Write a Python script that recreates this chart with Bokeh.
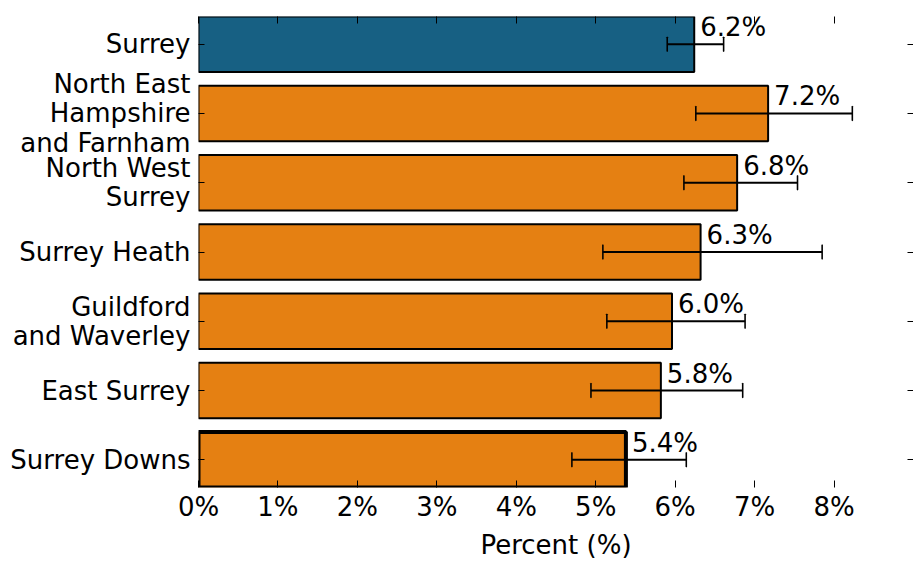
from bokeh.plotting import figure
from bokeh.models import Range1d, FixedTicker, LinearAxis, ColumnDataSource
from bokeh.embed import file_html
from bokeh.resources import INLINE

categories = ["Surrey", "North East\nHampshire\nand Farnham", "North West\nSurrey",
              "Surrey Heath", "Guildford\nand Waverley", "East Surrey", "Surrey Downs"]
values = [6.24, 7.17, 6.78, 6.32, 5.96, 5.82, 5.38]
lower = [5.90, 6.26, 6.11, 5.09, 5.14, 4.94, 4.70]
upper = [6.61, 8.23, 7.54, 7.85, 6.88, 6.85, 6.14]
colors = ["#176083", "#e58012", "#e58012", "#e58012", "#e58012", "#e58012", "#e58012"]
line_widths = [2, 2, 2, 2, 2, 2, 4]
x_ticks = [0, 1, 2, 3, 4, 5, 6, 7, 8]

n = len(categories)
pos = list(range(n))
labels = [f"{v:.1f}%" for v in values]

src = ColumnDataSource(dict(y=pos, v=values, lo=lower, hi=upper, c=colors,
                            lw=line_widths, lab=labels))

FONT = "DejaVu Sans"
FS = "26px"

p = figure(width=913, height=562, output_backend="svg", toolbar_location=None,
           x_range=Range1d(0, 9), y_range=Range1d(n - 1 + 0.4, -0.4),
           min_border_left=198, min_border_right=0, min_border_top=16, min_border_bottom=0)
p.outline_line_color = None
p.grid.visible = False
p.background_fill_color = "white"

p.hbar(y="y", right="v", left=0, height=0.8, fill_color="c", line_color="black",
       line_width="lw", source=src)
p.segment(x0="lo", x1="hi", y0="y", y1="y", line_color="black", line_width=2, source=src)
p.rect(x="lo", y="y", width=0.001, height=0.2, line_color="black", line_width=1.5,
       fill_color=None, source=src, width_units="data")
p.rect(x="hi", y="y", width=0.001, height=0.2, line_color="black", line_width=1.5,
       fill_color=None, source=src, width_units="data")
p.text(x="v", y="y", text="lab", source=src, x_offset=6, y_offset=-2,
       text_baseline="bottom", text_align="left", text_font_size=FS,
       text_font={"value": FONT}, text_color="black")

# x axes
xa = p.xaxis[0]
xa.ticker = FixedTicker(ticks=x_ticks)
xa.major_label_overrides = {t: f"{t}%" for t in x_ticks}
xa.axis_label = "Percent (%)"
top = LinearAxis(ticker=FixedTicker(ticks=x_ticks))
top.major_label_overrides = {t: "" for t in x_ticks}
p.add_layout(top, "above")
# y axes
ya = p.yaxis[0]
ya.ticker = FixedTicker(ticks=pos)
ya.major_label_overrides = {i: c for i, c in zip(pos, categories)}
right = LinearAxis(ticker=FixedTicker(ticks=pos))
right.major_label_overrides = {i: "" for i in pos}
p.add_layout(right, "right")

for ax in [xa, ya, top, right]:
    ax.axis_line_color = None
    ax.major_tick_in = 7
    ax.major_tick_out = 0
    ax.minor_tick_in = 0
    ax.minor_tick_out = 0
    ax.major_tick_line_color = "black"
    ax.major_tick_line_width = 1
    ax.major_label_text_font = FONT
    ax.major_label_text_font_size = FS
    ax.major_label_text_color = "black"
    ax.major_label_text_line_height = 0.97
    ax.axis_label_text_font = FONT
    ax.axis_label_text_font_size = FS
    ax.axis_label_text_font_style = "normal"
    ax.axis_label_text_color = "black"

ya.major_tick_in = 6
right.major_tick_in = 6
xa.major_label_standoff = 4
xa.axis_label_standoff = 5
ya.major_label_standoff = 8
for ax in [top, right]:
    ax.major_label_standoff = 0

open("out.html", "w").write(file_html(p, INLINE))
